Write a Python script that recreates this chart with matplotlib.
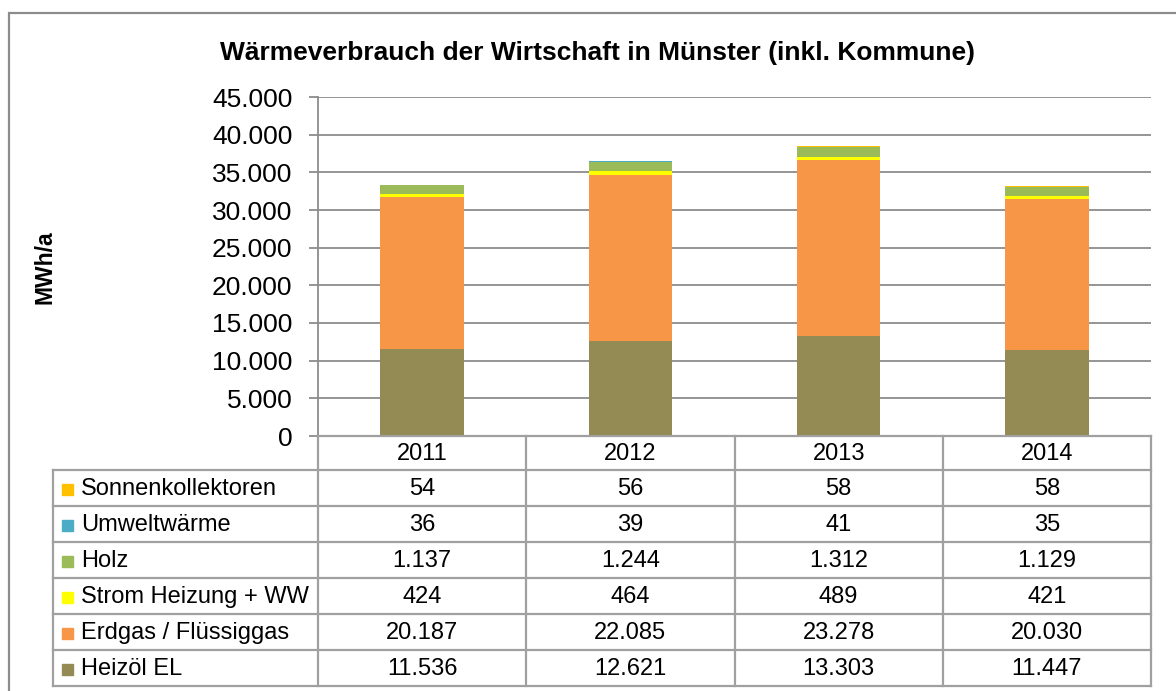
import matplotlib
matplotlib.use("Agg")
import matplotlib.pyplot as plt
from matplotlib.patches import Rectangle
import numpy as np

plt.rcParams['font.family'] = ['Liberation Sans', 'DejaVu Sans']

years = ["2011", "2012", "2013", "2014"]
series_names = ["Sonnenkollektoren", "Umweltwärme", "Holz", "Strom Heizung + WW",
                "Erdgas / Flüssiggas", "Heizöl EL"]
sonnen = [54, 56, 58, 58]
umwelt = [36, 39, 41, 35]
holz = [1137, 1244, 1312, 1129]
strom = [424, 464, 489, 421]
erdgas = [20187, 22085, 23278, 20030]
heizoel = [11536, 12621, 13303, 11447]
colors = ["#FFC000", "#4BACC6", "#9BBB59", "#FFFF00", "#F79646", "#948A54"]
yticks = [0, 5000, 10000, 15000, 20000, 25000, 30000, 35000, 40000, 45000]
title = "Wärmeverbrauch der Wirtschaft in Münster (inkl. Kommune)"
ylabel = "MWh/a"

W, H = 1176, 691
fig = plt.figure(figsize=(W / 100, H / 100), dpi=100)

def px(x0, y0, x1, y1):
    return [x0 / W, 1 - y1 / H, (x1 - x0) / W, (y1 - y0) / H]

# outer frame
fig.patches.append(Rectangle((9 / W, -0.05), 1.2, 1 - 13 / H + 0.05, transform=fig.transFigure,
                             fill=False, edgecolor="#8C8C8C", linewidth=1.6))

ax = fig.add_axes(px(318, 97, 1151, 436))
grid_c = "#8C8C8C"
x = np.arange(len(years))
stack_order = [heizoel, erdgas, strom, holz, umwelt, sonnen]
stack_colors = colors[::-1]
bottom = np.zeros(len(years))
for vals, c in zip(stack_order, stack_colors):
    ax.bar(x, vals, width=0.4, bottom=bottom, color=c, edgecolor="none", zorder=3)
    bottom += np.array(vals)

ax.set_xlim(-0.5, 3.5)
ax.set_ylim(0, 45000)
ax.set_yticks(yticks)
ax.set_yticklabels([f"{v:,}".replace(",", ".") for v in yticks], fontsize=19)
ax.set_xticks([])
ax.yaxis.grid(True, color=grid_c, linewidth=1.3, zorder=0)
for s in ["top", "right", "bottom"]:
    ax.spines[s].set_visible(False)
ax.spines["left"].set_color(grid_c)
ax.spines["left"].set_linewidth(1.3)
ax.tick_params(axis="y", length=6.5, width=1.3, color=grid_c, pad=12)
fig.text(45 / W, 1 - 267 / H, ylabel, rotation=90, fontsize=16.5, fontweight="bold",
         ha="center", va="center")
fig.text(597 / W, 1 - 53 / H, title, fontsize=19, fontweight="bold", ha="center", va="center")

# table (pixel coordinates for layout)
tax = fig.add_axes(px(53, 436, 1151, 687))
tax.set_xlim(53, 1151)
tax.set_ylim(687, 436)
tax.axis("off")
col_edges = np.linspace(318, 1151, len(years) + 1)
row_edges = [436, 470, 506, 542, 578, 614, 650, 686]
tc = "#A0A0A0"
lw = 1.6
for xb in col_edges:
    tax.plot([xb, xb], [row_edges[0], row_edges[-1]], color=tc, lw=lw, clip_on=False,
             solid_capstyle="projecting")
tax.plot([53, 53], [row_edges[1], row_edges[-1]], color=tc, lw=lw, clip_on=False,
         solid_capstyle="projecting")
tax.plot([318, 1151], [row_edges[0]] * 2, color=tc, lw=lw, clip_on=False)
for r in row_edges[1:]:
    tax.plot([53, 1151], [r, r], color=tc, lw=lw, clip_on=False)
col_c = (col_edges[:-1] + col_edges[1:]) / 2
for i, yr in enumerate(years):
    tax.text(col_c[i], (row_edges[0] + row_edges[1]) / 2 + 1, yr, ha="center", va="center",
             fontsize=17)
table_vals = [sonnen, umwelt, holz, strom, erdgas, heizoel]
for r, (name, vals, c) in enumerate(zip(series_names, table_vals, colors)):
    yc = (row_edges[r + 1] + row_edges[r + 2]) / 2 + 1
    tax.add_patch(Rectangle((62, yc - 5.5), 11, 11, color=c, clip_on=False))
    tax.text(81, yc, name, ha="left", va="center", fontsize=17)
    for i, v in enumerate(vals):
        tax.text(col_c[i], yc, f"{v:,}".replace(",", "."), ha="center", va="center", fontsize=17)

fig.savefig("out.png", dpi=100)
